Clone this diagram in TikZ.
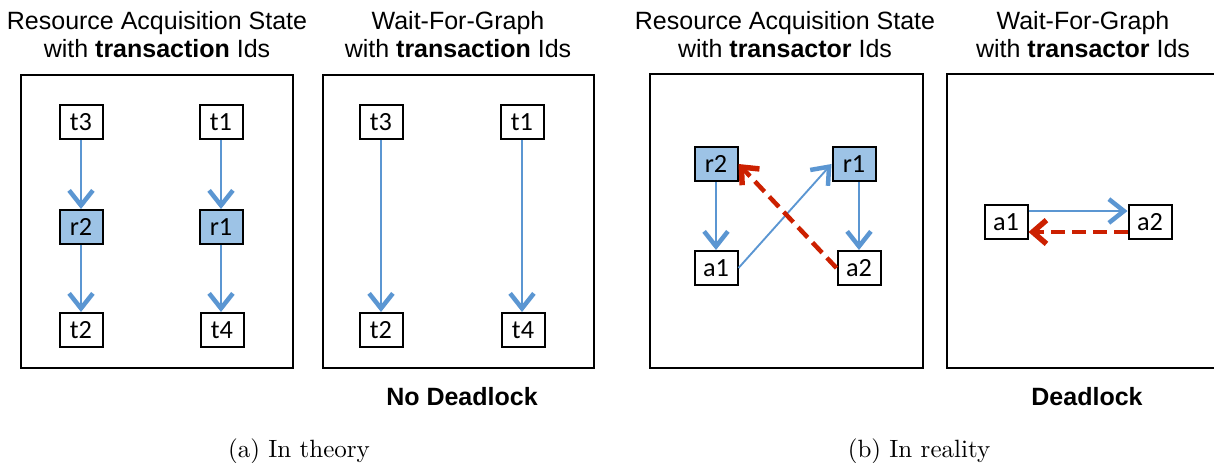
\documentclass[tikz,border=0pt]{standalone}
\usepackage{fontspec}
\usepackage{tikz}
\usetikzlibrary{arrows.meta}
\newfontfamily\hdfont{Liberation Sans}
\newfontfamily\boxfont{Carlito}
\definecolor{cBlue}{RGB}{91,150,210}
\definecolor{cFill}{RGB}{157,195,230}
\definecolor{cRed}{RGB}{204,32,0}
\tikzset{
	txbox/.style   ={rectangle, draw=black, line width=0.8pt, minimum width=17.2pt, minimum height=13.6pt, inner sep=0pt, fill=white, font=\boxfont\fontsize{10.5}{11}\selectfont},
	resbox/.style  ={txbox, fill=cFill},
	framebox/.style={draw=black, line width=0.8pt},
	heading/.style ={align=center, font=\hdfont\fontsize{10}{11.2}\selectfont},
	verdict/.style ={anchor=base, font=\hdfont\bfseries\fontsize{10}{12}\selectfont},
	subcap/.style  ={anchor=base, font=\fontsize{10}{12}\selectfont},
	% edges of the graphs
	dep/.style     ={draw=cBlue, line width=1pt, -{Straight Barb[length=6pt, width=9.5pt, line width=1.8pt]}},
	thindep/.style ={dep, line width=0.75pt},
	wait/.style    ={draw=cRed, line width=1.8pt, dash pattern=on 5.6pt off 2.8pt, -{Straight Barb[length=5.5pt, width=9.5pt, line width=2.2pt]}},
}
\begin{document}
\begin{tikzpicture}[x=0.4pt, y=-0.4pt]
	\useasboundingbox (0,0) rectangle (1214,462);
	% (a) in theory
	\draw[framebox] (21,75) rectangle (293,368);
	\draw[framebox] (323,75) rectangle (594,368);
	\node[heading] (h1) at (157,35) {Resource Acquisition State\\with \textbf{transaction} Ids};
	\node[heading] (h2) at (458,35) {Wait-For-Graph\\with \textbf{transaction} Ids};
	\node[txbox] (at3) at (81,122) {t3};
	\node[txbox] (at1) at (221,122) {t1};
	\node[resbox] (ar2) at (81,227) {r2};
	\node[resbox] (ar1) at (221,227) {r1};
	\node[txbox] (at2) at (81,330) {t2};
	\node[txbox] (at4) at (222,330) {t4};
	\draw[dep] (at3) -- (ar2);
	\draw[dep] (ar2) -- (at2);
	\draw[dep] (at1) -- (ar1);
	\draw[dep] (ar1) -- (ar1 |- at4.north);
	\node[txbox] (wt3) at (381,122) {t3};
	\node[txbox] (wt1) at (522,122) {t1};
	\node[txbox] (wt2) at (381,330) {t2};
	\node[txbox] (wt4) at (523,330) {t4};
	\draw[dep] (wt3) -- (wt2);
	\draw[dep] (wt1) -- (wt1 |- wt4.north);
	\node[verdict] (v1) at (462,405) {No Deadlock};
	\node[subcap] (c1) at (299,457) {(a) In theory};
	% (b) in reality
	\draw[framebox] (650,74) rectangle (923,368);
	\draw[framebox] (947,74) rectangle (1219,368);
	\node[heading] (h3) at (785,35) {Resource Acquisition State\\with \textbf{transactor} Ids};
	\node[heading] (h4) at (1083,35) {Wait-For-Graph\\with \textbf{transactor} Ids};
	\node[resbox] (br2) at (716,164) {r2};
	\node[resbox] (br1) at (854,164) {r1};
	\node[txbox] (ba1) at (716,268) {a1};
	\node[txbox] (ba2) at (859,268) {a2};
	\draw[thindep] (br2) -- (ba1);
	\draw[thindep] (br1.south -| ba2) -- (ba2);
	\draw[thindep] (ba1.east) -- (br1.west);
	\draw[wait] (ba2.west) -- (br2.east);
	\node[txbox] (wa1) at (1006,222) {a1};
	\node[txbox] (wa2) at (1150,222) {a2};
	\draw[thindep] ([yshift=4.4pt]wa1.east) -- ([yshift=4.4pt]wa2.west);
	\draw[wait] ([yshift=-4pt]wa2.west) -- ([yshift=-4pt]wa1.east);
	\node[verdict] (v2) at (1087,405) {Deadlock};
	\node[subcap] (c2) at (919,457) {(b) In reality};
\end{tikzpicture}
\end{document}
